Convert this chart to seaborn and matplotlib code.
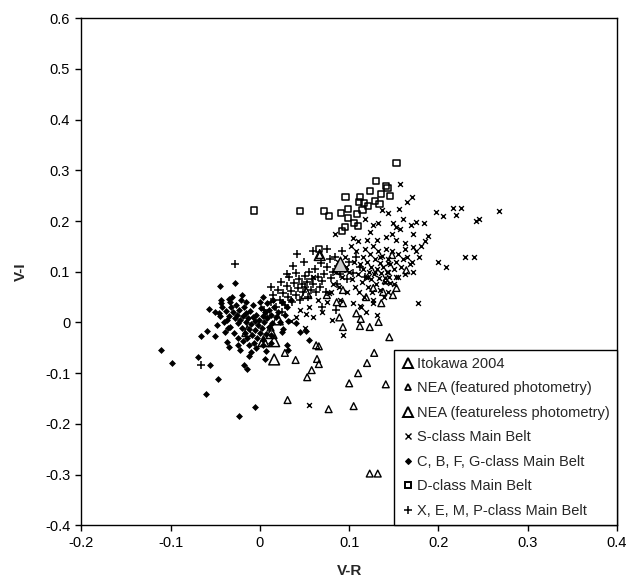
"""V-R vs V-I colour plot of Itokawa, NEAs and main-belt classes."""

import numpy as np
import pandas as pd
import matplotlib
matplotlib.use("Agg")
import matplotlib.pyplot as plt
from matplotlib.lines import Line2D
from matplotlib.ticker import MultipleLocator, FuncFormatter
import seaborn as sns

# ---- data ----
itokawa_vr = [0.090]
itokawa_vi = [0.115]

nea_feat_vr = [0.164, 0.153, 0.149, 0.138, 0.127, 0.119, 0.136, 0.093, 0.075, 0.086,
               0.093, 0.108, 0.113, 0.089, 0.133, 0.112, 0.123, 0.093, 0.145, 0.141,
               0.148, 0.067, 0.040, 0.053, 0.058, 0.064, 0.066, 0.031, 0.077, 0.063,
               0.066, 0.123, 0.132, 0.110, 0.120, 0.100, 0.141, 0.157, 0.128, 0.105,
               0.012, 0.028]
nea_feat_vi = [0.103, 0.068, 0.054, 0.060, 0.068, 0.050, 0.038, 0.064, 0.054, 0.040,
               0.038, 0.018, 0.007, 0.010, 0.001, -0.007, -0.009, -0.009, -0.029, 0.083,
               0.133, 0.133, -0.074, -0.108, -0.094, -0.072, -0.082, -0.153, -0.171, -0.045,
               -0.047, -0.298, -0.298, -0.100, -0.080, -0.120, -0.122, -0.084, -0.060, -0.165,
               -0.010, -0.060]

nea_flat_vr = [0.020, 0.004, 0.016, 0.016, 0.013, 0.067, -0.014, 0.052]
nea_flat_vi = [0.006, -0.037, -0.037, -0.073, -0.021, 0.133, -0.017, 0.058]

s_vr = [0.157, 0.170, 0.165, 0.156, 0.143, 0.137, 0.197, 0.216, 0.220, 0.268,
        0.242, 0.184, 0.175, 0.169, 0.160, 0.149, 0.153, 0.132, 0.127, 0.118,
        0.084, 0.172, 0.188, 0.148, 0.141, 0.123, 0.157, 0.104, 0.120, 0.131,
        0.153, 0.163, 0.172, 0.230, 0.209, 0.172, 0.153, 0.177, 0.127, 0.104,
        0.112, 0.081, 0.093, 0.052, 0.082, 0.089, 0.077, 0.143, 0.143, 0.134,
        0.129, 0.121, 0.146, 0.140, 0.225, 0.245, 0.205, 0.240, 0.200, 0.055,
        0.100, 0.103, 0.105, 0.107, 0.108, 0.110, 0.111, 0.112, 0.114, 0.115,
        0.116, 0.117, 0.118, 0.119, 0.120, 0.121, 0.122, 0.123, 0.124, 0.125,
        0.126, 0.127, 0.128, 0.129, 0.130, 0.131, 0.132, 0.133, 0.134, 0.135,
        0.136, 0.137, 0.138, 0.140, 0.141, 0.142, 0.143, 0.145, 0.146, 0.148,
        0.150, 0.152, 0.155, 0.158, 0.160, 0.162, 0.165, 0.168, 0.095, 0.097,
        0.098, 0.092, 0.090, 0.088, 0.085, 0.080, 0.075, 0.070, 0.065, 0.060,
        0.102, 0.110, 0.113, 0.119, 0.127, 0.131, 0.139, 0.144, 0.150, 0.155,
        0.163, 0.170, 0.175, 0.180, 0.185, 0.178, 0.060, 0.055, 0.040, 0.045,
        0.035, 0.050]
s_vi = [0.273, 0.247, 0.237, 0.224, 0.216, 0.222, 0.218, 0.226, 0.212, 0.220,
        0.200, 0.196, 0.198, 0.192, 0.204, 0.196, 0.188, 0.196, 0.192, 0.204,
        0.174, 0.174, 0.170, 0.174, 0.168, 0.178, 0.184, 0.166, 0.162, 0.162,
        0.162, 0.156, 0.149, 0.129, 0.109, 0.099, 0.089, 0.038, 0.038, 0.038,
        0.032, 0.005, -0.025, 0.016, 0.076, 0.070, 0.058, 0.099, 0.117, 0.129,
        0.099, 0.089, 0.078, 0.087, 0.225, 0.205, 0.210, 0.130, 0.120, -0.163,
        0.100, 0.085, 0.120, 0.070, 0.140, 0.095, 0.060, 0.115, 0.080, 0.130,
        0.105, 0.050, 0.145, 0.090, 0.120, 0.070, 0.100, 0.135, 0.085, 0.110,
        0.060, 0.150, 0.095, 0.125, 0.075, 0.105, 0.140, 0.088, 0.118, 0.065,
        0.098, 0.132, 0.110, 0.080, 0.145, 0.100, 0.125, 0.090, 0.115, 0.140,
        0.105, 0.120, 0.135, 0.110, 0.125, 0.145, 0.130, 0.115, 0.130, 0.110,
        0.060, 0.090, 0.045, 0.120, 0.100, 0.060, 0.040, 0.020, 0.045, 0.010,
        0.150, 0.160, 0.030, 0.020, 0.045, 0.015, 0.050, 0.060, 0.075, 0.090,
        0.095, 0.120, 0.140, 0.150, 0.160, 0.130, 0.090, 0.030, 0.010, 0.025,
        0.003, -0.010]

c_vr = [-0.111, -0.098, -0.069, -0.056, -0.047, -0.060, -0.023, -0.005, -0.018, -0.014,
        -0.012, -0.066, -0.059, -0.050, -0.057, -0.045, -0.028, -0.044, -0.035, -0.050,
        -0.046, -0.037, -0.033, -0.039, -0.037, -0.035, -0.022, -0.019, 0.006, 0.007,
        0.030, 0.031, 0.040, 0.045, 0.052, 0.055, 0.025, 0.026, 0.031,
        -0.042, -0.038, -0.035, -0.032, -0.030, -0.028, -0.026, -0.025, -0.023, -0.022,
        -0.020, -0.019, -0.018, -0.017, -0.016, -0.015, -0.014, -0.013, -0.012, -0.011,
        -0.010, -0.009, -0.008, -0.007, -0.006, -0.005, -0.004, -0.003, -0.002, -0.001,
        0.000, 0.001, 0.002, 0.003, 0.004, 0.005, 0.006, 0.007, 0.008, 0.010,
        0.012, 0.014, 0.016, 0.018, -0.040, -0.036, -0.033, -0.029, -0.027, -0.024,
        -0.021, -0.016, -0.012, -0.008, -0.004, 0.000, 0.003, 0.008, 0.010, 0.013,
        0.020, 0.022, 0.025, 0.028, -0.045, -0.048, -0.044, -0.031, -0.020, 0.004,
        0.015, 0.030, 0.035, -0.010, -0.025, 0.012]
c_vi = [-0.055, -0.080, -0.068, -0.084, -0.112, -0.141, -0.185, -0.167, -0.084, -0.092,
        -0.066, -0.027, -0.017, -0.027, 0.026, 0.072, 0.077, 0.038, 0.046, 0.020,
        0.018, 0.005, -0.009, -0.019, -0.039, -0.049, -0.055, -0.037, -0.072, -0.057,
        -0.045, -0.055, -0.001, -0.019, -0.017, -0.035, -0.019, -0.013, 0.003,
        0.030, 0.022, 0.012, 0.030, 0.020, 0.008, 0.015, -0.002, 0.025, 0.005,
        -0.010, 0.012, 0.030, -0.020, 0.000, 0.018, -0.030, 0.008, -0.012, 0.022,
        -0.004, -0.025, 0.010, -0.040, 0.002, -0.015, 0.015, -0.030, -0.005, 0.005,
        -0.020, 0.028, -0.010, 0.012, -0.035, 0.000, 0.020, -0.022, 0.008, -0.008,
        0.015, -0.002, 0.030, 0.010, 0.000, -0.010, 0.040, -0.020, 0.035, -0.030,
        0.045, 0.040, -0.045, 0.035, -0.050, 0.040, -0.045, 0.038, 0.025, -0.025,
        0.020, 0.000, 0.040, 0.015, 0.012, -0.005, 0.045, 0.050, 0.055, 0.050,
        0.045, 0.030, 0.045, -0.058, -0.045, -0.040]

d_vr = [-0.007, 0.045, 0.072, 0.077, 0.066, 0.153, 0.130, 0.141, 0.143, 0.123,
        0.136, 0.146, 0.096, 0.112, 0.111, 0.117, 0.121, 0.129, 0.134, 0.091,
        0.099, 0.099, 0.109, 0.115, 0.105, 0.110, 0.095, 0.092]
d_vi = [0.221, 0.220, 0.220, 0.210, 0.145, 0.314, 0.279, 0.269, 0.265, 0.259,
        0.253, 0.249, 0.247, 0.247, 0.237, 0.235, 0.229, 0.239, 0.233, 0.216,
        0.224, 0.206, 0.214, 0.222, 0.196, 0.190, 0.188, 0.180]

x_vr = [-0.066, -0.028, 0.042, 0.037, 0.012, 0.015, 0.018, 0.020, 0.022, 0.024,
        0.026, 0.028, 0.030, 0.032, 0.033, 0.035, 0.036, 0.038, 0.040, 0.041,
        0.043, 0.044, 0.045, 0.047, 0.048, 0.050, 0.051, 0.053, 0.054, 0.055,
        0.057, 0.058, 0.060, 0.062, 0.063, 0.065, 0.067, 0.068, 0.070, 0.072,
        0.074, 0.075, 0.078, 0.080, 0.082, 0.084, 0.086, 0.088, 0.090, 0.092,
        0.095, 0.098, 0.100, 0.104, 0.108, 0.112, 0.118, 0.005, 0.008, 0.025,
        0.070, 0.060, 0.049, 0.075, 0.085, 0.013, 0.030]
x_vi = [-0.084, 0.115, 0.135, 0.111, 0.040, 0.055, 0.030, 0.065, 0.045, 0.080,
        0.058, 0.035, 0.072, 0.050, 0.090, 0.062, 0.040, 0.078, 0.055, 0.098,
        0.068, 0.085, 0.045, 0.075, 0.060, 0.092, 0.070, 0.080, 0.050, 0.100,
        0.065, 0.085, 0.075, 0.105, 0.060, 0.090, 0.070, 0.118, 0.082, 0.095,
        0.060, 0.110, 0.125, 0.088, 0.100, 0.130, 0.075, 0.112, 0.095, 0.140,
        0.105, 0.085, 0.120, 0.098, 0.130, 0.110, 0.090, 0.025, 0.010, 0.020,
        0.030, 0.140, 0.120, 0.145, 0.025, 0.070, 0.095]

sns.set_theme(style="white")
plt.rcParams["font.family"] = ["Liberation Sans", "DejaVu Sans"]

fig = plt.figure(figsize=(6.27, 5.85), dpi=100)
ax = fig.add_axes([0.1297, 0.1021, 0.8544, 0.8667])

# (label, x, y, marker, size, face, linewidth, legend markersize)
series = [
    ("S-class Main Belt", s_vr, s_vi, "x", 12, "black", 1.0, 4),
    ("C, B, F, G-class Main Belt", c_vr, c_vi, "D", 9, "black", 0.5, 3),
    ("X, E, M, P-class Main Belt", x_vr, x_vi, "+", 30, "black", 1.1, 6),
    ("D-class Main Belt", d_vr, d_vi, "s", 20, "none", 1.1, 5),
    ("NEA (featured photometry)", nea_feat_vr, nea_feat_vi, "^", 24, "none", 1.0, 4.5),
    ("NEA (featureless photometry)", nea_flat_vr, nea_flat_vi, "^", 60, "none", 1.1, 7.5),
    ("Itokawa 2004", itokawa_vr, itokawa_vi, "^", 110, "#c8c8c8", 1.1, 7.5),
]
handles = {}
for label, xs, ys, mk, size, fc, lw, lms in series:
    df = pd.DataFrame({"vr": xs, "vi": ys})
    if mk in ("x", "+"):
        sns.scatterplot(data=df, x="vr", y="vi", marker=mk, s=size, color="black",
                        linewidth=lw, ax=ax, legend=False)
        handles[label] = Line2D([], [], ls="none", marker=mk, ms=lms, color="black",
                                mew=lw)
    else:
        sns.scatterplot(data=df, x="vr", y="vi", marker=mk, s=size, facecolor=fc,
                        edgecolor="black", linewidth=lw, ax=ax, legend=False)
        lfc = "white" if label == "Itokawa 2004" else fc
        handles[label] = Line2D([], [], ls="none", marker=mk, ms=lms, mfc=lfc,
                                mec="black", mew=lw + 0.3)

ax.set_xlim(-0.2, 0.4)
ax.set_ylim(-0.4, 0.6)
ax.xaxis.set_major_locator(MultipleLocator(0.1))
ax.yaxis.set_major_locator(MultipleLocator(0.1))
fmt = FuncFormatter(lambda v, _: "0" if abs(v) < 1e-9 else f"{v:.1f}")
ax.xaxis.set_major_formatter(fmt)
ax.yaxis.set_major_formatter(fmt)
ax.tick_params(axis="both", which="major", direction="out", length=4, width=1,
               labelsize=10.5, colors="black", bottom=True, left=True, pad=4)
for sp in ax.spines.values():
    sp.set_color("black")
    sp.set_linewidth(1.0)

ax.set_xlabel("V-R", fontsize=11, fontweight="bold", labelpad=10)
ax.set_ylabel("V-I", fontsize=11, fontweight="bold", labelpad=12)

order = ["Itokawa 2004", "NEA (featured photometry)", "NEA (featureless photometry)",
         "S-class Main Belt", "C, B, F, G-class Main Belt", "D-class Main Belt",
         "X, E, M, P-class Main Belt"]
leg = ax.legend([handles[k] for k in order], order, loc="lower right",
                bbox_to_anchor=(1.0, 0.0), borderaxespad=0, fontsize=10.5,
                frameon=True, fancybox=False, framealpha=1, edgecolor="black",
                labelspacing=0.72, handletextpad=0.2, handlelength=0.9,
                borderpad=0.5, numpoints=1)
leg.get_frame().set_linewidth(1.0)

fig.savefig("out.png", dpi=100)
